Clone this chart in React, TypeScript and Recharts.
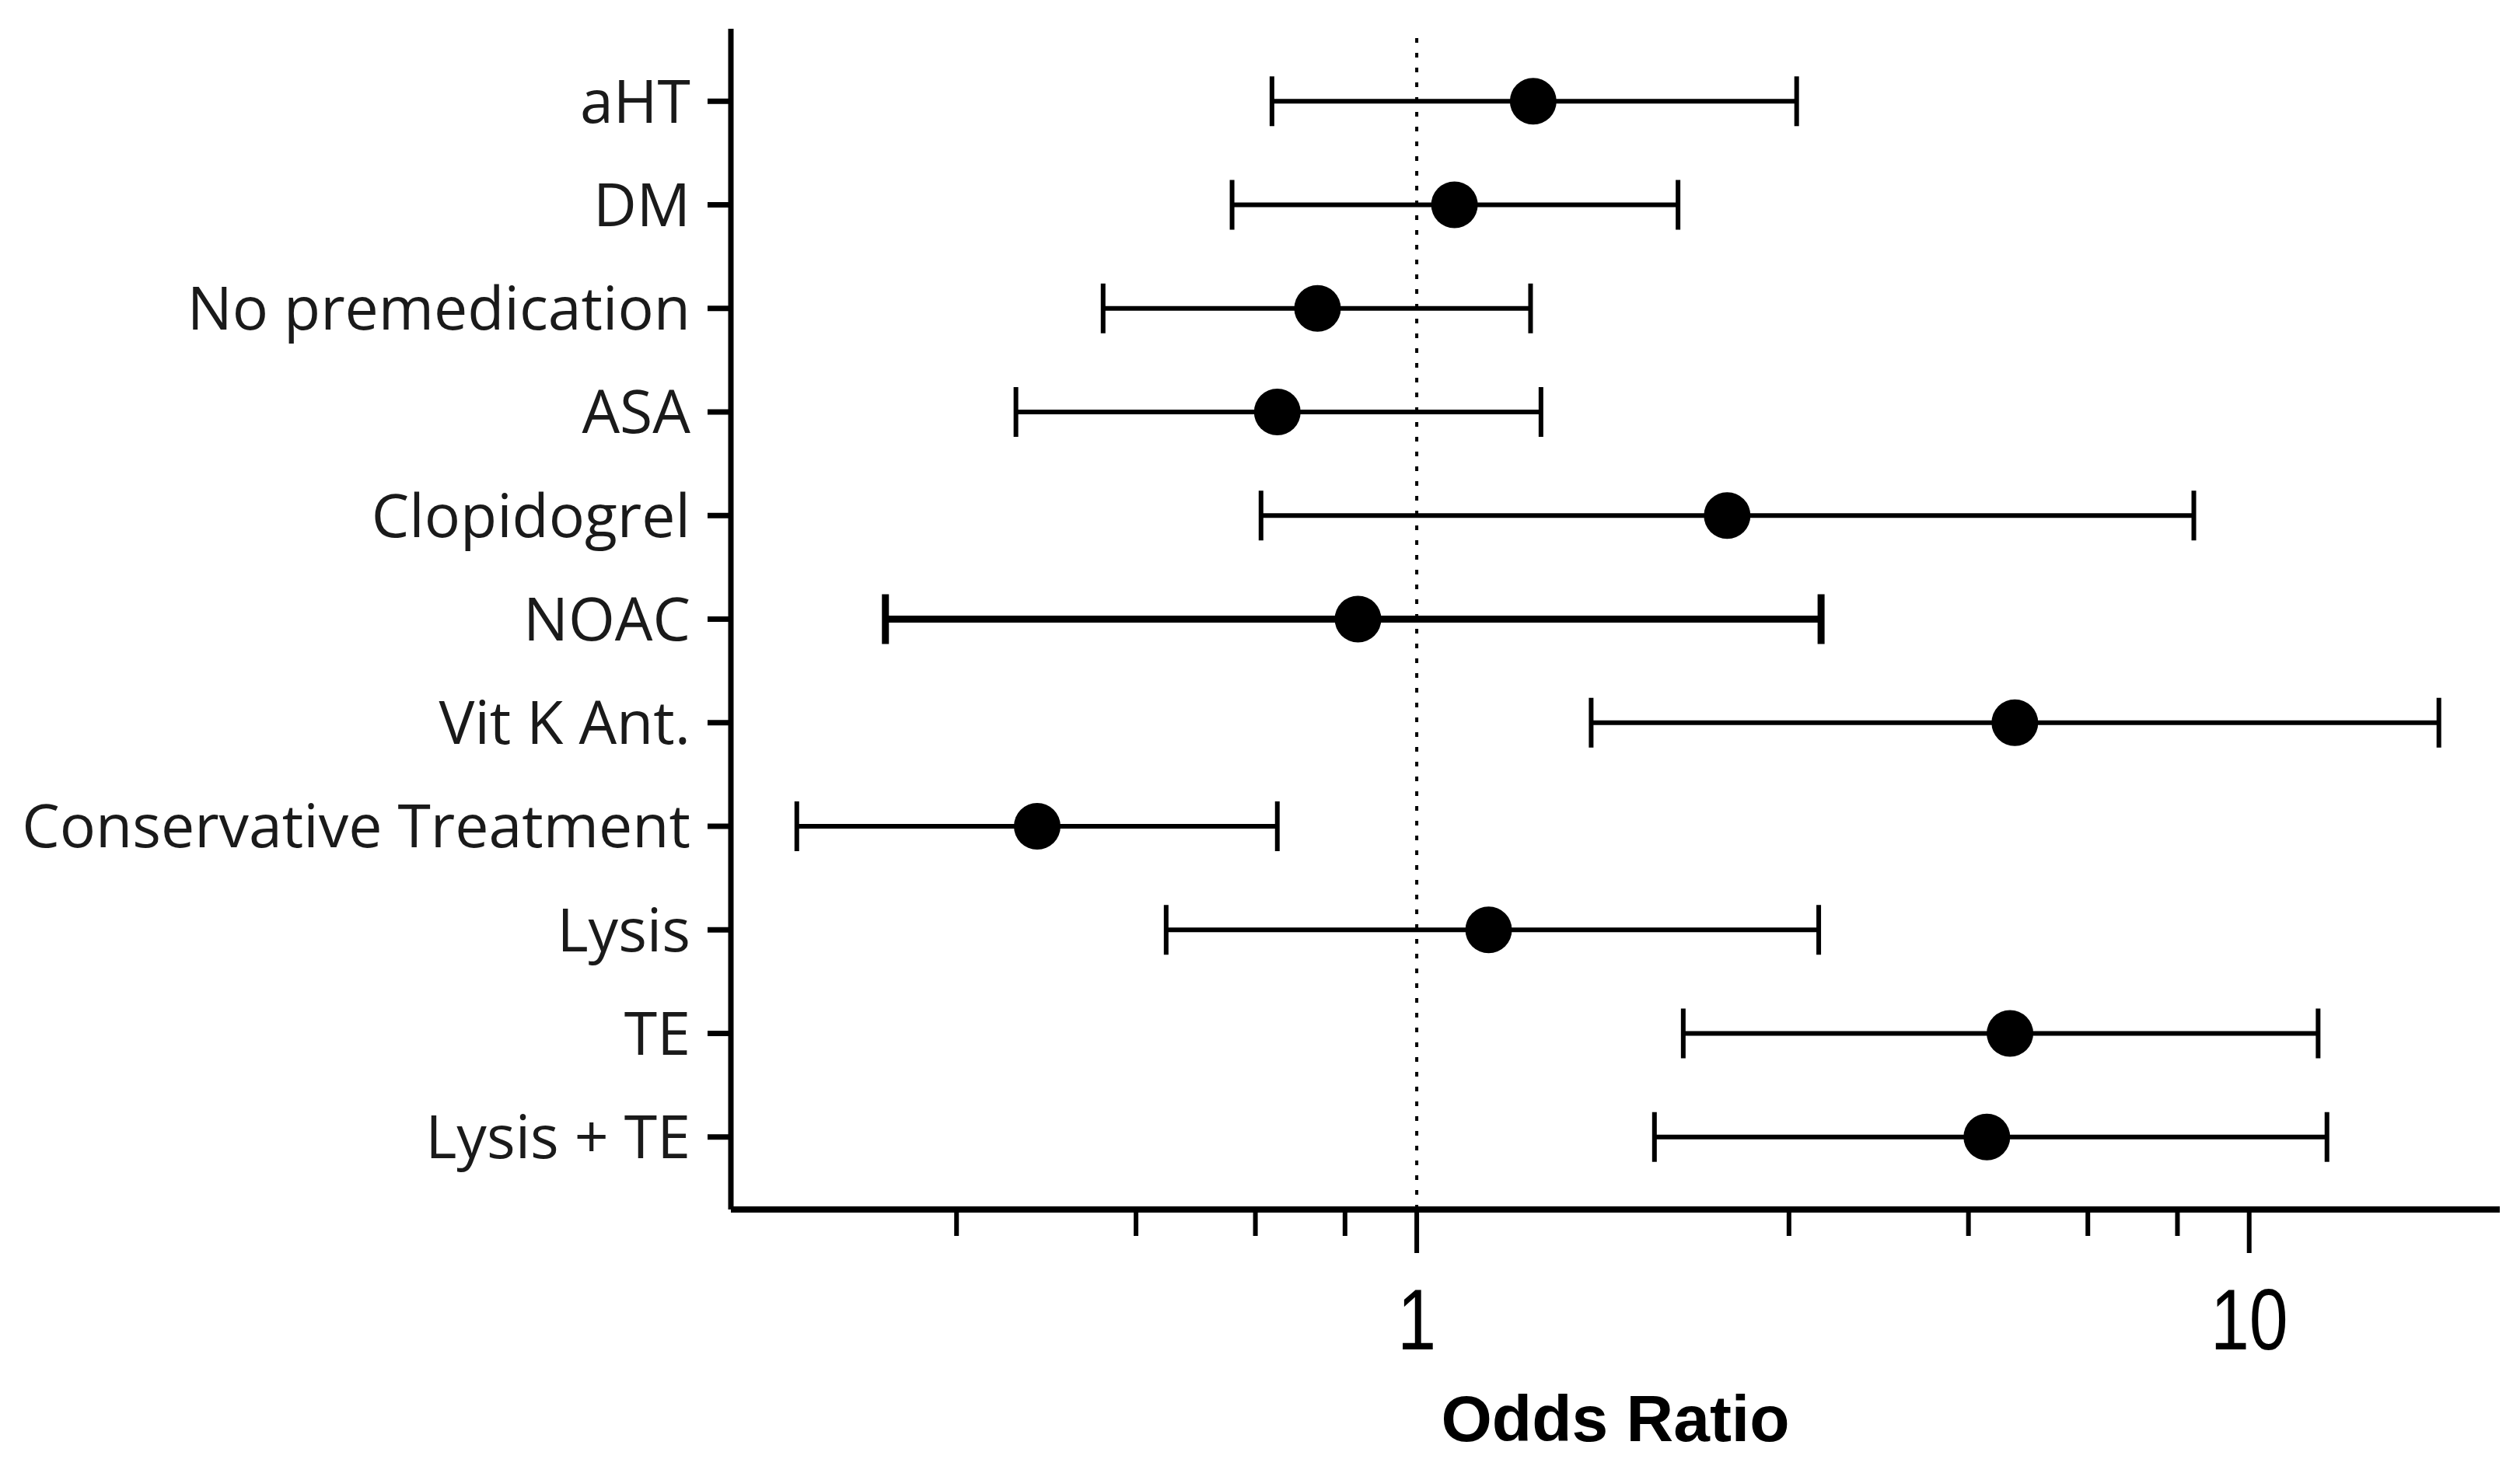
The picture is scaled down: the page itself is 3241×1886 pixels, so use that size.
import React from 'react';
import { ScatterChart, Scatter, XAxis, YAxis, ErrorBar, ReferenceLine } from 'recharts';

const categories = ['aHT', 'DM', 'No premedication', 'ASA', 'Clopidogrel', 'NOAC', 'Vit K Ant.', 'Conservative Treatment', 'Lysis', 'TE', 'Lysis + TE'];
const oddsRatio = [1.38, 1.11, 0.76, 0.68, 2.36, 0.85, 5.23, 0.35, 1.22, 5.16, 4.84];
const ciLow = [0.67, 0.60, 0.42, 0.33, 0.65, 0.23, 1.62, 0.18, 0.50, 2.09, 1.93];
const ciHigh = [2.86, 2.06, 1.37, 1.41, 8.58, 3.06, 16.9, 0.68, 3.04, 12.1, 12.4];
const thickCategories = ['NOAC'];

const xMajorTicks = [1, 10];
const xMinorTicks = [0.28, 0.46, 0.64, 0.82, 2.8, 4.6, 6.4, 8.2];
const xDomain = [0.15, 20];
const yPositions = categories.map((_, i) => i + 1);

const rows = categories.map((name, i) => ({
  name,
  pos: i + 1,
  or: oddsRatio[i],
  err: [oddsRatio[i] - ciLow[i], ciHigh[i] - oddsRatio[i]],
}));
const normalRows = rows.filter((r) => !thickCategories.includes(r.name));
const thickRows = rows.filter((r) => thickCategories.includes(r.name));

const Dot = (props: any) => <circle cx={props.cx} cy={props.cy} r={30} fill="#000" />;

const XTick = (props: any) => {
  const { x, y, payload } = props;
  const major = xMajorTicks.includes(payload.value);
  return (
    <g>
      <line x1={x} x2={x} y1={y} y2={y + (major ? 56 : 34)} stroke="#000" strokeWidth={6} />
      {major && (
        <text
          transform={`translate(${x},${y + 180}) scale(0.8,1)`}
          textAnchor="middle"
          fontFamily="'Liberation Sans', Arial, sans-serif"
          fontSize={112}
          fill="#000"
        >
          {payload.value}
        </text>
      )}
    </g>
  );
};

const XLabel = (props: any) => {
  const vb = props.viewBox;
  return (
    <text
      x={vb.x + vb.width / 2}
      y={vb.y + 298}
      textAnchor="middle"
      fontFamily="'Liberation Sans', Arial, sans-serif"
      fontWeight="bold"
      fontSize={84}
      fill="#000"
    >
      Odds Ratio
    </text>
  );
};

export default function App() {
  return (
    <div style={{ width: 3225, height: 1870, background: '#fff' }}>
      <ScatterChart width={3225} height={1870} margin={{ top: 29, right: 18, bottom: 0, left: 0 }}>
        <XAxis
          type="number"
          dataKey="or"
          scale="log"
          domain={xDomain}
          allowDataOverflow
          ticks={[...xMinorTicks, ...xMajorTicks].sort((a, b) => a - b)}
          interval={0}
          tickSize={0}
          tickMargin={0}
          tickLine={false}
          tick={<XTick />}
          axisLine={{ stroke: '#000', strokeWidth: 8 }}
          height={322}
          label={<XLabel />}
        />
        <YAxis
          type="number"
          dataKey="pos"
          domain={[0.3, 11.7]}
          reversed
          ticks={yPositions}
          interval={0}
          tickFormatter={(v: number) => categories[v - 1] ?? ''}
          width={932}
          tickSize={30}
          tickMargin={22}
          tickLine={{ stroke: '#000', strokeWidth: 7 }}
          axisLine={{ stroke: '#000', strokeWidth: 7 }}
          tick={{ fontFamily: "'Open Sans', sans-serif", fontSize: 77, fill: '#1a1a1a' }}
        />
        <ReferenceLine x={1} stroke="#000" strokeWidth={4} strokeDasharray="6 13" />
        <Scatter data={normalRows} shape={<Dot />} isAnimationActive={false}>
          <ErrorBar dataKey="err" direction="x" width={32} stroke="#000" strokeWidth={6} isAnimationActive={false} />
        </Scatter>
        <Scatter data={thickRows} shape={<Dot />} isAnimationActive={false}>
          <ErrorBar dataKey="err" direction="x" width={32} stroke="#000" strokeWidth={9} isAnimationActive={false} />
        </Scatter>
      </ScatterChart>
    </div>
  );
}
